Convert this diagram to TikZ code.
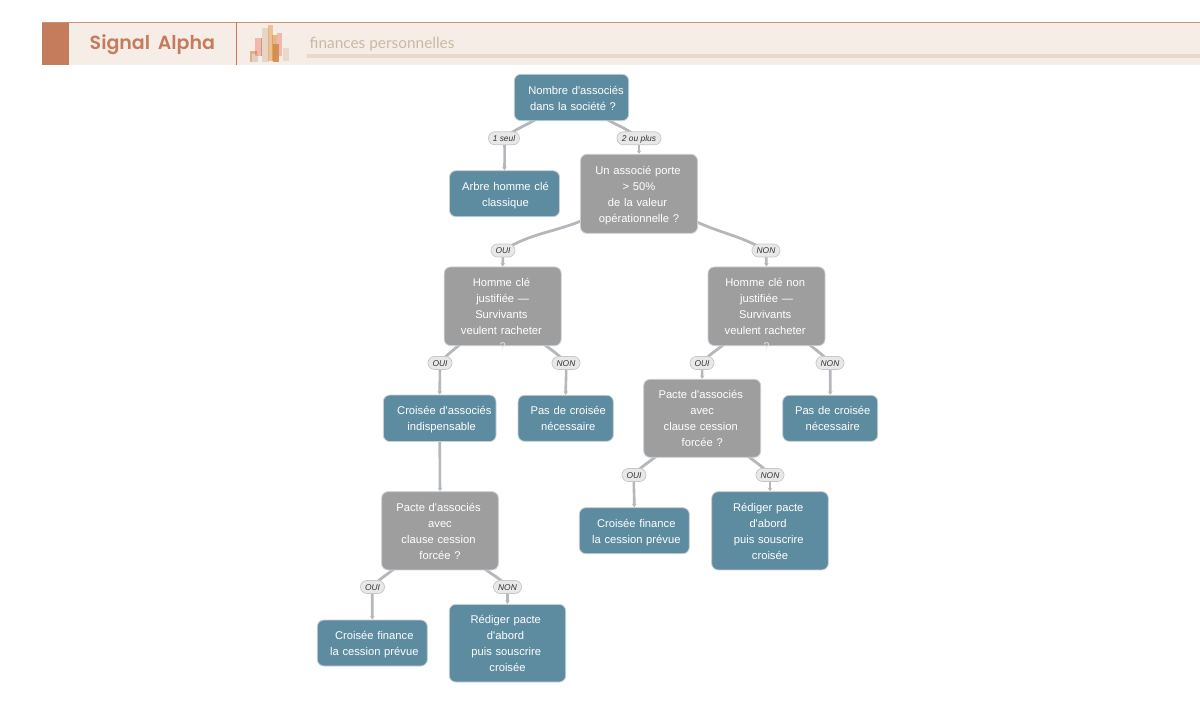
\documentclass[tikz,border=0pt]{standalone}
\usepackage{fontspec}
\usetikzlibrary{arrows.meta,calc}
\pgfdeclarelayer{edgelayer}
\pgfsetlayers{edgelayer,main}
\setmainfont{Liberation Sans}[Ligatures=TeXOff]
\newfontfamily\popfont{Poppins}[BoldFont={Poppins SemiBold}]
\newfontfamily\latofont{Lato}
\definecolor{teal1}{HTML}{5D8CA0}
\definecolor{gray1}{HTML}{9E9E9E}
\definecolor{bord}{HTML}{C9D0D4}
\definecolor{edgec}{HTML}{B4B8BC}
\definecolor{hdbg}{HTML}{F7EDE7}
\definecolor{hdc}{HTML}{C47C5C}
\definecolor{hdt}{HTML}{C9B9A3}
\definecolor{hdbar}{HTML}{E8D9CC}
\definecolor{icor}{HTML}{CF8A45}
\newcommand{\ls}[1]{\hspace*{#1pt}\hspace*{#1pt}}
\tikzset{
  boxbase/.style={rounded corners=6.5pt,draw=bord,line width=0.8pt,text=white,inner sep=0pt,align=center,font=\fontsize{11.2}{16}\selectfont,execute at begin node={\rule{0pt}{14pt}},execute at end node=\strut},
  tealbox/.style 2 args={boxbase,fill=teal1,text width=#1 pt,minimum height=#2 pt},
  graybox/.style 2 args={boxbase,fill=gray1,text width=#1 pt,minimum height=#2 pt},
  pill/.style={rounded corners=6.4pt,draw=black!22,line width=0.7pt,fill=black!9,text=black!80,inner sep=0pt,minimum height=13pt,text height=6pt,text depth=0pt,font=\fontsize{8.4}{9}\selectfont\itshape},
  edgea/.style={draw=edgec,line width=2.8pt},
  edgeb/.style={draw=edgec,line width=2.6pt,-{Stealth[length=3.5pt,width=4.5pt]}},
}
\begin{document}
\begin{tikzpicture}[x=1pt,y=-1pt]
\useasboundingbox (0,0) rectangle (1200,721);
% header band
\fill[hdbg] (42,21.5) rectangle (1200,64.5);
\fill[hdc] (42,21.5) rectangle (69,64.5);
\draw[hdc!85,line width=0.8pt] (42,22) -- (1200,22);
\draw[hdc,line width=0.8pt] (236.5,22) -- (236.5,64.5);
\node[text=hdc,anchor=base west,inner sep=0pt,font=\popfont\bfseries\fontsize{19}{22}\selectfont] (brand) at (89.5,49.5) {Signal\, Alpha};
\node[text=hdt,anchor=base west,inner sep=0pt,font=\latofont\fontsize{15.4}{18}\selectfont] (sub) at (309.5,48) {finances personnelles};
\fill[hdbar] (307,53.5) rectangle (1200,57.5);
% icon
\fill[icor,opacity=.6] (250,50.7) rectangle (257.3,62);
\fill[hdbar!90!gray] (251.7,54) rectangle (258.3,62);
\fill[red!60!brown,opacity=.28] (254.7,38) rectangle (261.7,56.3);
\fill[brown!70!black,opacity=.35] (260.5,38) rectangle (261.7,56.3);
\fill[hdbar!95!brown] (262.3,28) rectangle (269,62);
\fill[brown!55!orange,opacity=.4] (268.3,25.3) rectangle (272.7,61.3);
\fill[brown!60!orange,opacity=.5] (272.3,35.3) rectangle (277.3,61.3);
\fill[red!60!brown,opacity=.28] (276.7,33.3) rectangle (282,56.3);
\fill[icor,opacity=.85] (273.3,44) rectangle (279.3,62);
\fill[hdbar] (282.7,48) rectangle (289.3,61.3);

% decision and result nodes
\node[tealbox={114.4}{46.4}] (root) at (571.5,97.5) {\ls{4.5}Nombre d'associés\\\ls{1.5}dans la société ?};
\node[tealbox={110}{46}] (arbre) at (504.5,193.7) {\ls{1}Arbre homme clé\\\ls{1}classique};
\node[graybox={117}{79}] (porte) at (639,193.8) {\ls{-1}Un associé porte\\> 50\%\\\ls{-1.5}de la valeur\\opérationnelle ?};
\node[graybox={117}{78.7}] (hcoui) at (502.7,306.3) {\ls{-1.3}Homme clé\\justifiée —\\\ls{-1.3}Survivants\\\ls{-1.3}veulent racheter};
\node[graybox={117}{78.7}] (hcnon) at (766.5,306.3) {\ls{-1.3}Homme clé non\\justifiée —\\\ls{-1.3}Survivants\\\ls{-1.3}veulent racheter};
\node[text=black!12,inner sep=0pt,font=\fontsize{11.2}{16}\selectfont] (qa) at (502.7,346.5) {?};
\node[text=black!12,inner sep=0pt,font=\fontsize{11.2}{16}\selectfont] (qb) at (766.5,346.5) {?};
\node[tealbox={112.7}{46.5}] (croisee) at (439.7,418.3) {\ls{4.6}Croisée d'associés\\\ls{2}indispensable};
\node[tealbox={95.3}{46}] (pasa) at (565.7,418.3) {\ls{2.5}Pas de croisée\\\ls{2.5}nécessaire};
\node[tealbox={95}{46}] (pasb) at (830.2,418.3) {\ls{2.5}Pas de croisée\\\ls{2.5}nécessaire};
\node[graybox={116.7}{78.3}] (pactel) at (440,530.8) {\ls{-1.5}Pacte d'associés\\avec\\\ls{-1.5}clause cession\\forcée ?};
\node[graybox={117}{78}] (pacter) at (702.2,418.3) {\ls{-1.5}Pacte d'associés\\avec\\\ls{-1.5}clause cession\\forcée ?};
\node[tealbox={110}{46}] (cfl) at (372.3,643) {\ls{2}Croisée finance\\\ls{2}la cession prévue};
\node[tealbox={110}{46}] (cfr) at (634.3,530.7) {\ls{2}Croisée finance\\\ls{2}la cession prévue};
\node[tealbox={116.4}{77.7}] (redl) at (507.5,643.2) {\ls{-1.7}Rédiger pacte\\\ls{-2}d'abord\\\ls{-1.3}puis souscrire\\croisée};
\node[tealbox={116.6}{78.3}] (redr) at (770,530.8) {\ls{-1.7}Rédiger pacte\\\ls{-2}d'abord\\\ls{-1.3}puis souscrire\\croisée};

% edge labels
\node[pill,minimum width=31pt] (l1) at (504,138.3) {1 seul};
\node[pill,minimum width=44pt] (l2) at (639,138.3) {2 ou plus};
\node[pill,minimum width=24pt] (l3) at (503,250.5) {OUI};
\node[pill,minimum width=28pt] (l4) at (766,250.5) {NON};
\node[pill,minimum width=24pt] (l5) at (440,363) {OUI};
\node[pill,minimum width=28pt] (l6) at (566,363) {NON};
\node[pill,minimum width=24pt] (l7) at (702,363) {OUI};
\node[pill,minimum width=28pt] (l8) at (830,363) {NON};
\node[pill,minimum width=24pt] (l9) at (634,475) {OUI};
\node[pill,minimum width=28pt] (l10) at (770,475) {NON};
\node[pill,minimum width=24pt] (l11) at (372.5,587) {OUI};
\node[pill,minimum width=28pt] (l12) at (507.5,587) {NON};

% connectors
\begin{pgfonlayer}{edgelayer}
\draw[edgea] ([xshift=-33.5pt,yshift=3pt]root.south) to[out=-148,in=40] (l1.center);
\draw[edgeb] (l1.center) to[out=-85,in=90] (arbre.north);
\draw[edgea] ([xshift=33.5pt,yshift=3pt]root.south) to[out=-32,in=140] (l2.center);
\draw[edgeb] (l2.center) -- (porte.north);
\draw[edgea] ([xshift=4pt,yshift=14pt]porte.south west) to[out=-157,in=32] (l3.center);
\draw[edgeb] (l3.center) -- (hcoui.north);
\draw[edgea] ([xshift=-4pt,yshift=13pt]porte.south east) to[out=-25,in=150] (l4.center);
\draw[edgeb] (l4.center) -- (hcnon.north);
\draw[edgea] ([xshift=-41pt,yshift=3pt]hcoui.south) to[out=-140,in=50] (l5.center);
\draw[edgeb] (l5.center) to[out=-90,in=90] (croisee.north);
\draw[edgea] ([xshift=40pt,yshift=3pt]hcoui.south) to[out=-40,in=130] (l6.center);
\draw[edgeb] (l6.center) to[out=-88,in=90] (pasa.north);
\draw[edgea] ([xshift=-41pt,yshift=3pt]hcnon.south) to[out=-140,in=50] (l7.center);
\draw[edgeb] (l7.center) -- (pacter.north);
\draw[edgea] ([xshift=41pt,yshift=3pt]hcnon.south) to[out=-40,in=130] (l8.center);
\draw[edgeb] (l8.center) to[out=-88,in=90] (pasb.north);
\draw[edgea] ([xshift=-44pt,yshift=3pt]pacter.south) to[out=-140,in=50] (l9.center);
\draw[edgeb] (l9.center) to[out=-92,in=90] (cfr.north);
\draw[edgea] ([xshift=44pt,yshift=3pt]pacter.south) to[out=-40,in=130] (l10.center);
\draw[edgeb] (l10.center) -- (redr.north);
\draw[edgeb] (croisee.south) -- (pactel.north);
\draw[edgea] ([xshift=-44pt,yshift=3pt]pactel.south) to[out=-140,in=50] (l11.center);
\draw[edgeb] (l11.center) to[out=-92,in=90] (cfl.north);
\draw[edgea] ([xshift=43pt,yshift=3pt]pactel.south) to[out=-40,in=130] (l12.center);
\draw[edgeb] (l12.center) -- (redl.north);
\end{pgfonlayer}
\end{tikzpicture}
\end{document}
